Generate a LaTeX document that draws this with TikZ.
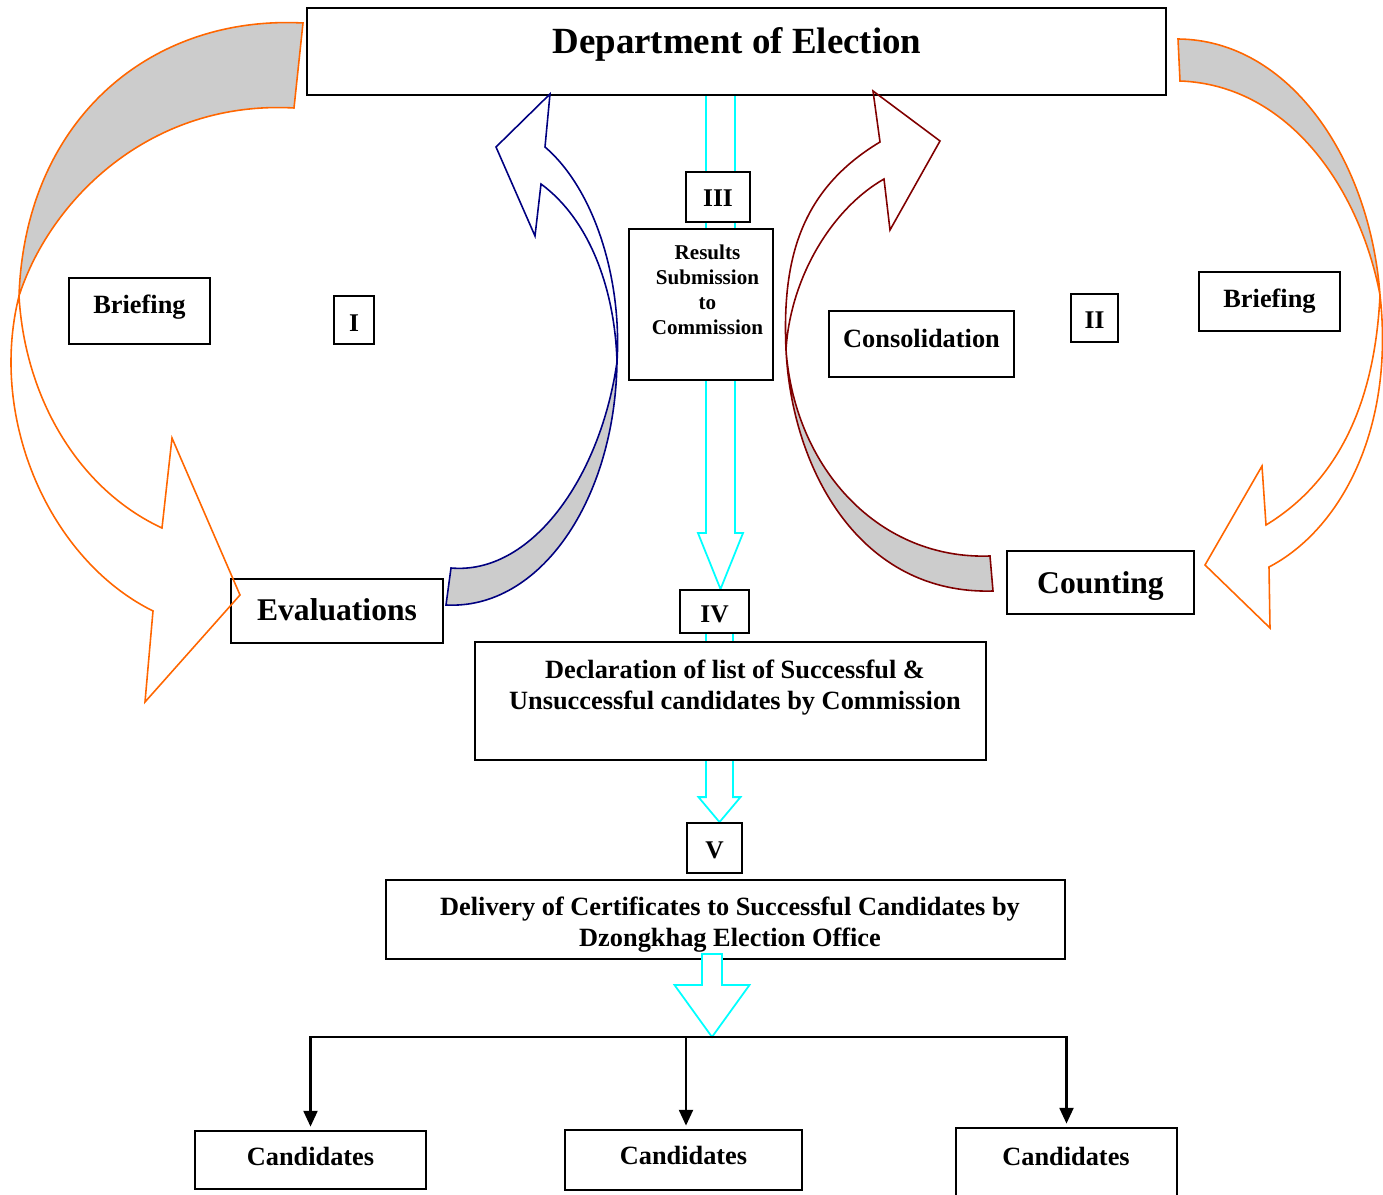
\documentclass[tikz,border=0pt]{standalone}
\usepackage{fontspec}
\setmainfont{Liberation Serif}
\usetikzlibrary{calc,arrows.meta}

\definecolor{loopOrange}{HTML}{FF6600}
\definecolor{loopBlue}{HTML}{000080}
\definecolor{loopRed}{HTML}{800000}
\definecolor{ribbonGray}{HTML}{CCCCCC}
\definecolor{flowCyan}{HTML}{00FFFF}

\newcommand{\pxu}{0.02cm}
% block arrow: start, tip, half shaft, half head, head length
\newcommand{\flowarrow}[5]{%
  \draw[flow] ($(#1)+(-#3,0)$) -- ($(#2)+(-#3,-#5)$) -- ($(#2)+(-#4,-#5)$) -- (#2)
    -- ($(#2)+(#4,-#5)$) -- ($(#2)+(#3,-#5)$) -- ($(#1)+(#3,0)$) -- cycle;}

\tikzset{
  box/.style={draw, line width=1pt, fill=white, inner sep=0pt},
  wh/.style 2 args={minimum width=#1*\pxu, minimum height=#2*\pxu},
  bl/.style={text height=#1, text depth=0pt},
  txt/.style={font=\bfseries\fontsize{15}{17.6}\selectfont, align=center, inner sep=0pt},
  big/.style={font=\bfseries\fontsize{18}{21}\selectfont},
  roman/.style={font=\bfseries\fontsize{14.5}{17}\selectfont},
  flow/.style={draw=flowCyan, line width=1pt, fill=white},
  back/.style={draw=#1, fill=ribbonGray, line width=0.9pt},
  front/.style={draw=#1, line width=0.9pt},
  tree/.style={line width=1.2pt, -{Triangle[length=9pt,width=8pt]}, shorten >=2pt}
}

\begin{document}
\begin{tikzpicture}[x=\pxu, y=-\pxu]
\useasboundingbox (0,0) rectangle (1383,1195);

% cyan flow behind the boxes
\coordinate (flowA) at (720.5,95);
\coordinate (flowB) at (719.5,633);
\node[box, wh={69}{43}] (iv) at (714.5,611.5) {};
\node[box, wh={55}{50}] (v) at (714.5,848) {};
\coordinate (tipA) at (flowA |- iv.north);
\coordinate (tipB) at (flowB |- v.north);
\flowarrow{flowA}{tipA}{14.5}{22.5}{56}
\flowarrow{flowB}{tipB}{13.5}{21}{25}

% boxes
\node[box, wh={859}{87}] (dept) at (736.5,51.5) {};
\node[font=\bfseries\fontsize{21}{24}\selectfont, inner sep=0pt] (dept-t) at (737,44.5) {Department of Election};
\node[box, txt, roman, bl=10.6pt, wh={64}{50}] (iii) at (718,197) {III};
\node[box, wh={144}{151}] (results) at (701,304.5) {};
\node[txt, font=\bfseries\fontsize{12}{14.2}\selectfont] (results-t) at (707.5,289.5) {Results\\Submission\\to\\Commission};
\node[box, txt, roman, bl=12.9pt, wh={40}{48}] (one) at (354,320) {I};
\node[box, txt, bl=2.8pt, wh={141}{66}] (briefL) at (139.5,311) {Briefing};
\node[box, txt, big, bl=10.8pt, wh={212}{64}] (eval) at (337,611) {Evaluations};
\node[box, txt, bl=4.3pt, wh={185}{66}] (consol) at (921.5,344) {Consolidation};
\node[box, txt, roman, bl=11.7pt, wh={47}{48}] (two) at (1094.5,318) {II};
\node[box, txt, bl=7.1pt, wh={141}{59}] (briefR) at (1269.5,301.5) {Briefing};
\node[box, txt, big, bl=12.5pt, wh={187}{63}] (count) at (1100.5,582.5) {Counting};
\node[box, txt, roman, bl=12.3pt, wh={69}{43}] (iv) at (714.5,611.5) {IV};
\node[box, wh={511}{118}] (decl) at (730.5,701) {};
\node[txt] (decl-t) at (735,687.5) {Declaration of list of Successful \&\\Unsuccessful candidates by Commission};
\node[box, txt, roman, bl=11.7pt, wh={55}{50}] (v) at (714.5,848) {V};
\node[box, wh={679}{79}] (deliv) at (725.5,919.5) {};
\node[txt] (deliv-t) at (730,924.5) {Delivery of Certificates to Successful Candidates by\\Dzongkhag Election Office};
\node[box, txt, bl=6.6pt, wh={231}{58}] (cand1) at (310.5,1160) {Candidates};
\node[box, txt, bl=5.4pt, wh={237}{60}] (cand2) at (683.5,1160) {Candidates};
\node[box, wh={221}{80}] (cand3) at (1066.5,1168) {};
\node[txt, bl=8pt] (cand3-t) at (1066,1158) {Candidates};

% left loop
\draw[back=loopOrange] (303,23) .. controls (150,15) and (25,120) .. (19,296)
  .. controls (50,200) and (150,100) .. (294,108) -- cycle;
\draw[front=loopOrange] (19,296) .. controls (-12,420) and (50,560) .. (153,611)
  -- (145,702) -- (240,595) -- (172,438) -- (162,528)
  .. controls (80,490) and (25,400) .. (19,296);

% right loop
\draw[back=loopOrange] (1178,39) .. controls (1290,40) and (1370,160) .. (1380,295)
  .. controls (1360,190) and (1290,85) .. (1180,81) -- cycle;
\draw[front=loopOrange] (1380,295) .. controls (1395,430) and (1340,530) .. (1269,567)
  -- (1270,628) -- (1205,565) -- (1262,466) -- (1266,525)
  .. controls (1340,480) and (1375,400) .. (1380,295);

% evaluations up to department
\draw[back=loopBlue] (451,568) .. controls (530,575) and (600,480) .. (617,362)
  .. controls (615,500) and (540,610) .. (446,605) -- cycle;
\draw[front=loopBlue] (617,362) .. controls (622,280) and (595,190) .. (545,147)
  -- (550,94) -- (496,147) -- (535,236) -- (541,184)
  .. controls (590,220) and (615,290) .. (617,362);

% counting up to department
\draw[back=loopRed] (990,556) .. controls (880,560) and (795,470) .. (786,350)
  .. controls (792,470) and (860,595) .. (993,591) -- cycle;
\draw[front=loopRed] (786,350) .. controls (782,260) and (800,190) .. (880,142)
  -- (873,91) -- (940,141) -- (890,230) -- (884,179)
  .. controls (830,210) and (790,280) .. (786,350);

% delivery down to candidates
\coordinate (split) at (686,1037);
\coordinate (flowC) at (712,954);
\coordinate (tipC) at (flowC |- split);
\flowarrow{flowC}{tipC}{10}{37.5}{52}
\draw[tree] (split) -| (cand1);
\draw[tree] (split) -- (split |- cand2.north);
\draw[tree] (split) -| (cand3);
\end{tikzpicture}
\end{document}
